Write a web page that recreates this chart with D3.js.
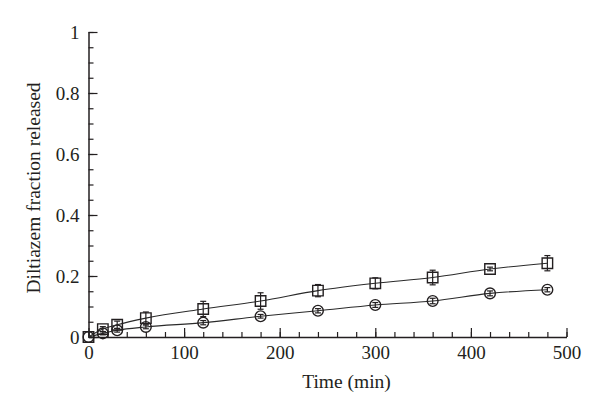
<!DOCTYPE html>
<html>
<head>
<meta charset="utf-8">
<script src="https://cdn.jsdelivr.net/npm/d3@7"></script>
<style>
body { margin: 0; background: #fff; }
</style>
</head>
<body>
<script>
// data
var times = [0, 15, 30, 60, 120, 180, 240, 300, 360, 420, 480];
var squareVals = [0, 0.026, 0.04, 0.062, 0.092, 0.118, 0.152, 0.176, 0.195, 0.223, 0.242];
var squareErr  = [0, 0.008, 0.012, 0.02, 0.025, 0.027, 0.02, 0.018, 0.024, 0.006, 0.025];
var circleVals = [0, 0.012, 0.022, 0.033, 0.047, 0.068, 0.086, 0.105, 0.118, 0.143, 0.155];
var circleErr  = [0, 0.005, 0.006, 0.006, 0.007, 0.006, 0.007, 0.008, 0.009, 0.008, 0.007];
var xTicks = [0, 100, 200, 300, 400, 500];
var yTicks = [0, 0.2, 0.4, 0.6, 0.8, 1];

var width = 600, height = 415;
var font = "'Liberation Serif', 'Times New Roman', serif";
var ink = "#231f20";

var svg = d3.select("body").append("svg")
  .attr("width", width)
  .attr("height", height);

var x = d3.scaleLinear().domain([0, 500]).range([88.5, 566.5]);
var y = d3.scaleLinear().domain([0, 1]).range([337, 32]);

// minor ticks first
svg.append("g")
  .attr("transform", "translate(0," + y(0) + ")")
  .call(d3.axisBottom(x).tickValues(d3.range(0, 501, 20)).tickSize(-5).tickSizeOuter(0).tickFormat(""))
  .call(function(g) { g.select(".domain").remove(); });
svg.append("g")
  .attr("transform", "translate(" + x(0) + ",0)")
  .call(d3.axisLeft(y).tickValues(d3.range(0, 1.001, 0.05)).tickSize(-5).tickSizeOuter(0).tickFormat(""))
  .call(function(g) { g.select(".domain").remove(); });

// major ticks and labels
svg.append("g")
  .attr("transform", "translate(0," + y(0) + ")")
  .call(d3.axisBottom(x).tickValues(xTicks).tickSize(-9).tickSizeOuter(0).tickPadding(9).tickFormat(d3.format("d")));
svg.append("g")
  .attr("transform", "translate(" + x(0) + ",0)")
  .call(d3.axisLeft(y).tickValues(yTicks).tickSize(-9).tickSizeOuter(0).tickPadding(9)
    .tickFormat(function(d) { return d === 0 || d === 1 ? d3.format("d")(d) : d3.format(".1f")(d); }));

svg.selectAll(".tick line").attr("stroke", ink).attr("stroke-width", 1.2);
svg.selectAll(".domain").attr("stroke", ink).attr("stroke-width", 1.5);
svg.selectAll(".tick text")
  .attr("font-family", font)
  .attr("font-size", 19)
  .attr("fill", ink);

// axis titles
svg.append("text")
  .attr("x", 346.5)
  .attr("y", 388)
  .attr("text-anchor", "middle")
  .attr("font-family", font)
  .attr("font-size", 19.5)
  .attr("fill", ink)
  .text("Time (min)");
svg.append("text")
  .attr("transform", "translate(40,188) rotate(-90)")
  .attr("text-anchor", "middle")
  .attr("font-family", font)
  .attr("font-size", 19.5)
  .attr("fill", ink)
  .text("Diltiazem fraction released");

function drawSeries(vals, errs, shape) {
  var pts = times.map(function(t, i) { return {t: t, v: vals[i], e: errs[i]}; });
  var line = d3.line()
    .x(function(d) { return x(d.t); })
    .y(function(d) { return y(d.v); })
    .curve(d3.curveMonotoneX);
  svg.append("path")
    .datum(pts)
    .attr("d", line)
    .attr("fill", "none")
    .attr("stroke", "#2a2a2a")
    .attr("stroke-width", 1.1);

  var eb = svg.append("g").attr("stroke", ink).attr("stroke-width", 1.2);
  pts.forEach(function(d) {
    if (d.e <= 0) return;
    var cx = x(d.t);
    eb.append("line").attr("x1", cx).attr("x2", cx).attr("y1", y(d.v - d.e)).attr("y2", y(d.v + d.e));
    eb.append("line").attr("x1", cx - 3).attr("x2", cx + 3).attr("y1", y(d.v - d.e)).attr("y2", y(d.v - d.e));
    eb.append("line").attr("x1", cx - 3).attr("x2", cx + 3).attr("y1", y(d.v + d.e)).attr("y2", y(d.v + d.e));
  });

  var sym = d3.symbol().type(shape).size(shape === d3.symbolSquare ? 110 : 90);
  svg.append("g").selectAll("path")
    .data(pts).enter().append("path")
    .attr("transform", function(d) { return "translate(" + x(d.t) + "," + y(d.v) + ")"; })
    .attr("d", sym)
    .attr("fill", "none")
    .attr("stroke", ink)
    .attr("stroke-width", 1.4);
}

drawSeries(circleVals, circleErr, d3.symbolCircle);
drawSeries(squareVals, squareErr, d3.symbolSquare);
</script>
</body>
</html>
